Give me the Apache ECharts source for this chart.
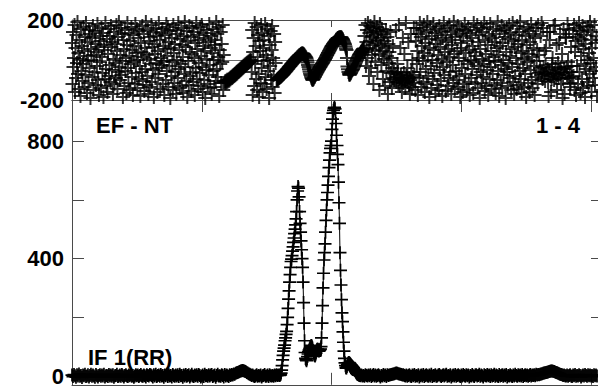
<!DOCTYPE html>
<html>
<head>
<meta charset="utf-8">
<script src="https://cdn.jsdelivr.net/npm/echarts@6.0.0/dist/echarts.min.js"></script>
<style>
html,body{margin:0;padding:0;background:#fff;}
#chart{width:598px;height:387px;}
</style>
</head>
<body>
<div id="chart"></div>
<script>
// ---------------- DATA ----------------
// x axis: channel number (no labels shown), ticks every 260 channels
const xTickValues = [0, 260, 520, 780, 1040];
// upper panel y labels
const phaseTickLabels = [-200, 200];
// lower panel y ticks / labels
const ampTickValues = [0, 200, 400, 600, 800];
const ampTickLabels = [0, 400, 800];

// Annotation texts
const titleLeft = 'EF - NT';
const titleRight = '1 - 4';
const panelLabel = 'IF 1(RR)';

// Amplitude spectrum (lower panel)
const ampLeftStart = 0, ampLeftStep = 2;
const ampLeft = [3,-2,5,1,-4,4,0,7,-1,2,
  -5,3,1,6,-2,0,4,-3,2,6,
  -1,3,0,-4,5,1,-3,2,4,-1,
  3,0,6,-3,1,2,-2,5,0,3,
  -1,4,-4,1,2,6,-2,0,3,-1,
  5,1,-3,2,4,0,-2,3,1,5,
  -1,2,-4,0,4,1,3,-2,2,5,
  0,-1,3,1,-3,4,2,0,5,3,
  1,-3,4,0,6,-2,2,3,-1,5,
  0,2,-4,3,1,6,-2,4,0,2,
  -3,5,1,-1,3,0,4,-2,6,1,
  2,-4,3,0,5,-1,2,4,-3,1,
  6,0,-2,3,1,4,-1,5,2,-3,
  0,3,-2,6,1,2,-1,4,0,3,
  5,-2,1,3,-4,2,6,0,1,-1,
  4,2,-3,5,0,3,1,-2,4,2,
  5,3,7,6,9,11,12,14,15,17,
  18,19,18,16,15,12,10,8,6,4,
  2,3,0,-2,1,4,-1,2,0,3,
  -3,1,2,5,-1,0,3,-2,4,1,
  0,2,-1,3,1,4,2,3];
const ampPeakStart = 416, ampPeakStep = 1;
const ampPeak = [2,3,5,10,20,35,55,70,85,95,
  105,120,130,142,152,175,200,230,262,290,
  320,345,370,390,398,410,425,440,455,470,
  485,500,515,535,560,600,630,645,640,610,
  560,520,490,460,430,400,370,320,250,180,
  120,80,60,55,52,58,66,75,82,88,
  92,96,100,103,104,100,95,88,80,74,
  70,68,72,78,85,90,92,90,86,85,
  88,90,92,100,130,180,240,300,350,395,
  420,450,490,530,565,600,625,650,680,710,
  735,760,775,785,800,840,875,895,905,912,
  915,910,895,860,820,785,755,720,660,590,
  520,420,360,310,260,215,185,150,115,85,
  60,45,35,28,27,32,38,42,45,46,
  44,42,40,38,36,34,32,30,28,25,
  22,19,16,13,10,8,6,5,4,3,
  2];
const ampRightStart = 578, ampRightStep = 2;
const ampRight = [1,3,0,2,-1,4,2,0,3,1,
  4,-2,2,5,0,3,-1,2,4,1,
  -3,2,0,5,1,3,-2,4,2,3,
  4,5,6,7,8,9,10,9,8,7,
  6,5,3,4,2,0,3,-1,2,4,
  0,-2,3,1,5,-1,2,0,4,-3,
  1,3,0,5,-2,2,4,1,-1,3,
  0,6,-2,2,1,4,-1,0,3,5,
  1,-2,2,4,0,3,6,-1,2,0,
  4,-3,1,3,0,5,-1,2,4,1,
  -2,3,0,5,2,-1,4,1,3,-3,
  2,0,5,1,-2,3,4,0,2,6,
  -1,3,1,-3,4,2,0,5,1,3,
  -2,4,0,2,6,-1,3,1,-2,5,
  0,2,4,-1,3,1,5,-3,2,0,
  4,1,-2,3,0,6,2,-1,4,1,
  3,0,5,-2,2,4,1,3,-1,2,
  5,0,3,2,4,1,6,3,5,4,
  6,7,8,9,10,11,12,13,14,15,
  16,17,17,16,15,14,12,11,9,8,
  6,5,4,2,3,1,0,3,-1,2,
  4,0,-2,3,1,5,-1,2,0,4,
  2,-3,1,3,0,5,2,-1,4,1,
  3,0,2,-2,4,1,3,0];

// Phase (upper panel), one value per channel, in segments
const phaseStep = 1;
const phaseNoise1Start = 0;
const phaseNoise1 = [85,-120,140,-35,10,175,-160,60,-90,125,
  -15,190,-70,35,-145,100,5,-180,155,-55,
  70,-105,-20,165,45,-135,115,-75,185,-5,
  -165,90,20,-115,150,-40,130,-190,55,0,
  110,-85,170,-150,25,-60,145,80,-125,40,
  -30,180,-100,65,-175,120,-10,95,-140,160,
  15,-65,135,-185,75,50,-95,185,-45,-130,
  105,-160,30,155,-80,-25,120,-110,170,65,
  -50,90,-170,5,140,-120,80,-15,-90,175,
  45,-145,115,-60,190,-35,-100,25,160,-75,
  130,-5,-185,100,55,-130,150,-55,10,-165,
  75,185,-40,-115,135,20,-150,95,-20,165,
  -85,50,-175,125,-10,70,-120,180,-65,35,
  155,-140,0,110,-95,145,-30,-180,85,40,
  -60,170,-105,15,130,-155,60,-45,190,-125,
  25,-80,150,-170,95,5,-135,115,-20,175,
  -110,65,-50,140,-185,80,30,-90,160,-15,
  120,-160,45,-70,185,-40,100,-145,10,135,
  -25,155,-120,70,-5,-175,125,55,-100,180,
  -55,20,165,-135,90,-30,145,-190,60,-80,
  110,-10,-150,175,35,-115,80,-60,150,-170,
  0,130,-90,185,-45,50,-140,105,-20,160,
  -130,75,15,-165,120,-70,190,-35,65,-105,
  145,-185,95,-5,-125,170,40,-80,115,-155,
  30,160,-60,-110,140,10,-175,85,-40,185,
  -95,55,125,-145,-15,100,-65,165,-130,20,
  175,-35,-160,70,135,-100,45,-190,110,-50,
  5,150,-120,90,-75,180,-25,-140,60,120,
  -170,35,155,-55,0,-135,100,75,-105,190,
  -45,130,-85,15,165,-180,50,-20,140,-115,
  80,-10,175,-150,25];
const phaseBand1Start = 306;
const phaseBand1 = [-112,-106,-115,-104,-110,-99,-108,-101,-96,-104,
  -92,-98,-87,-93,-84,-90,-79,-85,-75,-80,
  -70,-76,-66,-71,-60,-67,-56,-61,-52,-57,
  -47,-52,-43,-48,-38,-43,-34,-38,-29,-34,
  -24,-29,-20,-25,-15,-20,-11,-15,-7,-11,
  -3,-8,0,-4];
const phaseNoise2Start = 360;
const phaseNoise2 = [-60,150,-175,40,110,-130,185,-20,70,-95,
  165,-150,15,125,-70,-185,95,45,-115,175,
  -40,135,-160,60,-5,100,-120,180,-85,25,
  -145,155,0,-55,120,-190,75,-30,145,-100,
  50,170,-135,10,-75,130,-165,90,-15];
const phaseCurveStart = 410;
const phaseCurve = [-100,-97,-98,-94,-92,-90,-89,-85,-85,-81,
  -80,-76,-75,-71,-70,-65,-63,-59,-57,-54,
  -51,-47,-45,-42,-39,-35,-33,-30,-27,-23,
  -21,-18,-15,-11,-9,-6,-3,1,3,6,
  8,12,13,17,18,22,23,25,28,30,
  31,33,33,31,30,26,24,19,16,12,
  8,-2,-12,-25,-35,-46,-58,-68,-75,-82,
  -90,-95,-100,-97,-95,-89,-85,-81,-75,-71,
  -66,-61,-58,-52,-49,-45,-40,-35,-32,-28,
  -24,-19,-16,-12,-8,-3,0,5,10,14,
  20,25,29,35,38,44,48,52,57,63,
  67,70,74,79,81,86,88,91,95,100,
  102,104,108,110,110,112,112,113,113,114,
  113,109,105,101,95,88,83,77,68,58,
  50,10,-33,-46,-60,-69,-75,-71,-68,-64,
  -58,-53,-50,-45,-38,-32,-27,-23,-16,-9,
  -4,3,8,12,18,24,27,30,35,40,
  43,46,50,54,55,57];
const phaseNoise3Start = 586;
const phaseNoise3 = [120,40,175,-30,90,150,10,185,60,-80,
  135,95,170,-40,115,25,160,75,-120,140,
  190,50,-10,125,85,165,-60,100,145,30,
  -150,180,70,110,-25,155,45,-95,130,5,
  95,-130,60,150,-55,20,115,-170,80,-15,
  40,-110,140,-65,10,-140,-40,70,-90,-60,-100];
const phaseBand2Start = 648;
const phaseBand2 = [-70,150,-110,-85,-20,-60,-120,175,-95,-130,
  60,-75,-100,-160,-90,110,-115,-65,30,-105,
  -140,185,-80,-95,-40,-110,90,-125,-90,-170,
  -100,130,-60,-135,0,-85,-115,160,-75];
const phaseNoise4Start = 688;
const phaseNoise4 = [-150,95,160,-20,45,-175,130,10,-90,185,
  -60,115,-135,70,150,-5,-110,175,35,-160,
  85,-45,140,-120,190,20,-80,105,-185,60,
  165,-30,-140,120,0,-95,180,50,-65,135,
  -170,80,155,-15,-125,100,25,-150,170,-50,
  65,-105,145,5,-180,110,-35,185,-75,40,
  125,-155,90,-10,160,-130,55,-90,175,15,
  -60,140,-170,75,100,-25,-115,190,30,-145,
  115,-55,150,-100,45,170,-135,10,-80,130,
  -185,85,60,-40,155,-160,120,-5,-120,180,
  -70,35,145,-150,95,-20,165,-110,50,-175,
  135,0,-90,110,-45,70,-165,185,-10,40,
  -120,150,20,-75,175,-140,90,-30,125,-190,
  55,-60,160,-115,5,140,-85,-20,185,-155,
  100,30,-130,165,-50,75,-175,120,-5,-95,
  180,-35,45,-145,110,-70,155,15,-125,90,
  -10,-165,130,60,-100,190,-55,25,-180,145,
  70,-115,-25,170,-140,85,0,-75,150,-45,
  115,-190,40,160,-60,-130,105,-15,175,-90,
  20,135,-150,55,-35,185,-110,95,-170,65,
  -80,125,10,-145,170,-20,80,-125,140,-55,
  190,-95,35,-165,100,45,-40,155,-135,5,
  -70,120,-185,75,-10,165,-115,30,145,-160,
  90,-50,180,-100,15,-140,130,60,-30,-175,
  110,-85,160,-5,50,-120,175,-65,25];
const phaseBand3Start = 938;
const phaseBand3 = [-40,120,-75,185,-60,-95,160,-35,-70,45,
  -105,-25,60,-65,140,-45,-110,-180,-55,100,
  140,-80,-160,-95,-20,10,-70,170,-100,-65,
  175,-35,-85,75,-150,-75,-15,-90,85,-50,
  130,-40,-120,-60,30,-190,-95,155,-45,-170,
  -65,115,110,-35,-75,180,-10,-90,150,-60,
  -135,-115,65,-30,-85];
const phaseNoise5Start = 1004;
const phaseNoise5 = [130,-80,175,-150,40,95,-175,160,-30,115,
  -120,70,185,-60,145,-165,20,105,-95,170,
  -140,55,125,-20,-185,80,-45,150,-110,0,
  165,-130,35,-70,190,-15,100,-160,60,140,
  -90,10,-55,175,-125,85,-35,120,-180];

// ---------------- BUILD ----------------
function toPairs(start, step, vals) {
  return vals.map(function (v, i) { return [start + i * step, v]; });
}
const ampData = [].concat(
  toPairs(ampLeftStart, ampLeftStep, ampLeft),
  toPairs(ampPeakStart, ampPeakStep, ampPeak),
  toPairs(ampRightStart, ampRightStep, ampRight)
);
const phaseData = [].concat(
  toPairs(phaseNoise1Start, phaseStep, phaseNoise1),
  toPairs(phaseBand1Start, phaseStep, phaseBand1),
  toPairs(phaseNoise2Start, phaseStep, phaseNoise2),
  toPairs(phaseCurveStart, phaseStep, phaseCurve),
  toPairs(phaseNoise3Start, phaseStep, phaseNoise3),
  toPairs(phaseBand2Start, phaseStep, phaseBand2),
  toPairs(phaseNoise4Start, phaseStep, phaseNoise4),
  toPairs(phaseBand3Start, phaseStep, phaseBand3),
  toPairs(phaseNoise5Start, phaseStep, phaseNoise5)
);

const FONT = '"Liberation Sans", Arial, sans-serif';
const AX = '#4a4a4a';
const PLUS = 'path://M5.65,0h1.7v5.65h5.65v1.7h-5.65v5.65h-1.7v-5.65h-5.65v-1.7h5.65z';
const PLUS_BOLD = 'path://M6,0h2v6h6v2h-6v6h-2v-6h-6v-2h6z';

function xAx(grid, pos, tickLen) {
  return {
    type: 'value', gridIndex: grid, position: pos, min: 0, max: 1054,
    axisLine: { show: true, onZero: false, lineStyle: { color: AX, width: 1 } },
    axisTick: { show: true, inside: true, length: tickLen, customValues: xTickValues, lineStyle: { color: AX } },
    axisLabel: { show: false },
    splitLine: { show: false }
  };
}

const chart = echarts.init(document.getElementById('chart'), null, { renderer: 'svg' });
chart.setOption({
  animation: false,
  backgroundColor: '#fff',
  grid: [
    { left: 72, top: 20, width: 527, height: 80 },
    { left: 72, top: 100, width: 527, height: 287 }
  ],
  xAxis: [
    xAx(0, 'bottom', 7),
    xAx(0, 'top', 7),
    xAx(1, 'bottom', 12),
    xAx(1, 'top', 12)
  ],
  yAxis: [
    {
      type: 'value', gridIndex: 0, position: 'left', min: -200, max: 200, interval: 200,
      axisLine: { show: true, onZero: false, lineStyle: { color: AX } },
      axisTick: { show: false },
      axisLabel: { show: true, customValues: phaseTickLabels, margin: 8, color: '#000',
        fontFamily: FONT, fontWeight: 'bold', fontSize: 22 },
      splitLine: { show: true, lineStyle: { color: '#6a6a6a', width: 1 } }
    },
    {
      type: 'value', gridIndex: 0, position: 'right', min: -200, max: 200, interval: 200,
      axisLine: { show: true, onZero: false, lineStyle: { color: AX } },
      axisTick: { show: false }, axisLabel: { show: false }, splitLine: { show: false }
    },
    {
      type: 'value', gridIndex: 1, position: 'left', min: -30, max: 940,
      axisLine: { show: true, onZero: false, lineStyle: { color: AX } },
      axisTick: { show: true, inside: true, length: 12, customValues: ampTickValues, lineStyle: { color: AX } },
      axisLabel: { show: true, customValues: ampTickLabels, margin: 8, color: '#000',
        fontFamily: FONT, fontWeight: 'bold', fontSize: 22 },
      splitLine: { show: false }
    },
    {
      type: 'value', gridIndex: 1, position: 'right', min: -30, max: 940,
      axisLine: { show: true, onZero: false, lineStyle: { color: AX } },
      axisTick: { show: true, inside: true, length: 7, customValues: ampTickValues, lineStyle: { color: AX } },
      axisLabel: { show: false }, splitLine: { show: false }
    }
  ],
  series: [
    {
      type: 'scatter', xAxisIndex: 0, yAxisIndex: 0, data: phaseData,
      symbol: PLUS_BOLD, symbolSize: 14, itemStyle: { color: '#000' }, silent: true
    },
    {
      type: 'line', xAxisIndex: 2, yAxisIndex: 2, data: ampData,
      symbol: PLUS, symbolSize: 13, showSymbol: true, showAllSymbol: true,
      lineStyle: { color: '#000', width: 1 }, itemStyle: { color: '#000' }, silent: true
    }
  ],
  graphic: [
    { type: 'text', x: 96, y: 125, style: { text: titleLeft, fill: '#000', font: 'bold 22px ' + FONT, align: 'left', verticalAlign: 'middle' } },
    { type: 'text', x: 580, y: 125, style: { text: titleRight, fill: '#000', font: 'bold 22px ' + FONT, align: 'right', verticalAlign: 'middle' } },
    { type: 'text', x: 88, y: 357, style: { text: panelLabel, fill: '#000', font: 'bold 22px ' + FONT, align: 'left', verticalAlign: 'middle' } }
  ]
});
</script>
</body>
</html>
